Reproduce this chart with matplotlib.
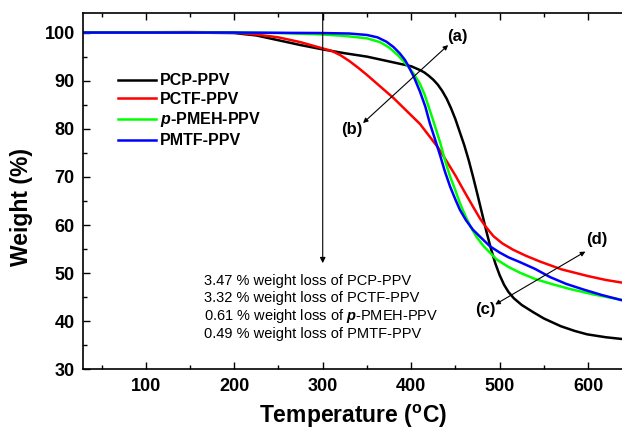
import matplotlib
matplotlib.use("Agg")
import matplotlib.pyplot as plt
from matplotlib.ticker import MultipleLocator

plt.rcParams['font.family'] = ['Liberation Sans', 'DejaVu Sans']
plt.rcParams['mathtext.fontset'] = 'custom'
plt.rcParams['mathtext.rm'] = 'Liberation Sans:bold'
plt.rcParams['mathtext.bf'] = 'Liberation Sans:bold'
plt.rcParams['mathtext.it'] = 'Liberation Sans:italic:bold'

# TGA curves (temperature in C, weight in %)
pcp_t = [30, 150, 200, 225, 250, 275, 300, 325, 350, 375, 390, 400, 410, 415, 420, 425, 430, 435,
         440, 445, 450, 455, 460, 465, 470, 475, 480, 485, 490, 495, 500, 505, 510, 516, 525, 538,
         550, 569, 585, 599, 620, 640]
pcp_w = [100, 100, 99.9, 99.4, 98.4, 97.4, 96.5, 95.7, 95.0, 94.0, 93.4, 93.0, 92.2, 91.7, 91.0, 90.2, 89.2, 87.9,
         86.3, 84.3, 82.0, 79.3, 76.6, 73.5, 70.0, 66.3, 62.5, 58.7, 55.2, 52.1, 49.6, 47.6, 46.1, 44.8, 43.4, 41.9,
         40.6, 39.0, 38.0, 37.3, 36.7, 36.3]

pctf_t = [30, 150, 200, 225, 250, 275, 300, 310, 320, 330, 340, 350, 360, 370, 380, 390, 400,
          410, 420, 430, 440, 450, 460, 470, 478, 485, 493, 503, 515, 530, 546, 570, 600, 620, 640]
pctf_w = [100, 100.1, 100, 99.6, 99.0, 98.0, 96.7, 96.2, 95.3, 94.1, 92.7, 91.2, 89.6, 88.0, 86.4, 84.6, 82.8,
          81.0, 78.6, 76.2, 73.3, 70.3, 67.0, 63.8, 61.3, 59.5, 57.7, 56.2, 54.9, 53.6, 52.4, 50.8, 49.4, 48.6, 48.0]

pmeh_t = [30, 200, 250, 300, 325, 350, 365, 375, 385, 395, 403, 410, 415, 421, 427, 433, 438, 444,
          450, 455, 461, 467, 474, 482, 490, 497, 510, 523, 540, 560, 580, 606, 640]
pmeh_w = [100, 100, 99.9, 99.6, 99.3, 98.8, 98.0, 96.9, 95.3, 93.3, 91.4, 89.3, 87.2, 83.9, 80.5, 77.0, 73.6, 70.1,
          67.2, 64.6, 62.0, 59.7, 57.5, 55.6, 54.1, 52.8, 51.3, 50.1, 48.8, 47.7, 46.7, 45.6, 44.4]

pmtf_t = [30, 200, 300, 330, 350, 362, 372, 380, 387, 393, 397, 403, 410, 416, 421, 427, 433, 438,
          444, 450, 455, 462, 470, 480, 489, 500, 510, 523, 540, 557, 575, 595, 615, 640]
pmtf_w = [100, 100, 99.9, 99.8, 99.5, 99.0, 98.1, 97.0, 95.7, 94.3, 93.0, 90.8, 87.7, 84.6, 81.2, 77.8, 74.3, 71.2,
          68.0, 65.3, 63.2, 61.0, 59.0, 57.2, 55.6, 54.3, 53.3, 52.3, 50.9, 49.2, 47.8, 46.6, 45.5, 44.3]

series = [
    ("PCP-PPV", pcp_t, pcp_w, "#000000"),
    ("PCTF-PPV", pctf_t, pctf_w, "#ff0000"),
    (r"$\it{p}$-PMEH-PPV", pmeh_t, pmeh_w, "#00ff00"),
    ("PMTF-PPV", pmtf_t, pmtf_w, "#0000ff"),
]

loss_lines = [
    "3.47 % weight loss of PCP-PPV",
    "3.32 % weight loss of PCTF-PPV",
    r"0.61 % weight loss of $\it{p}$-PMEH-PPV",
    "0.49 % weight loss of PMTF-PPV",
]

fig = plt.figure(figsize=(6.22, 4.32), dpi=100)
ax = fig.add_axes([0.1334, 0.1447, 0.869, 0.8245])

for label, t, w, c in series:
    ax.plot(t, w, color=c, lw=1.8, label=label)

ax.set_xlim(29, 640)
ax.set_ylim(30, 104)
ax.xaxis.set_major_locator(MultipleLocator(100))
ax.xaxis.set_minor_locator(MultipleLocator(50))
ax.yaxis.set_major_locator(MultipleLocator(10))
ax.yaxis.set_minor_locator(MultipleLocator(5))
ax.tick_params(which='both', direction='in', top=True, right=False, width=1)
ax.tick_params(which='major', length=5, labelsize=13, pad=6)
ax.tick_params(which='minor', length=3)
for lab in ax.get_xticklabels() + ax.get_yticklabels():
    lab.set_fontweight('bold')
ax.spines['right'].set_visible(False)
for s in ['left', 'bottom', 'top']:
    ax.spines[s].set_linewidth(1.2)

ax.set_xlabel(r"Temperature ($^{\mathbf{o}}$C)", fontsize=16.5, fontweight='bold', labelpad=6)
ax.set_ylabel("Weight (%)", fontsize=16.5, fontweight='bold')
ax.yaxis.set_label_coords(-0.092, 0.457)

ax.legend(loc='upper left', bbox_to_anchor=(0.0648, 0.832), frameon=False,
          prop={'weight': 'bold', 'size': 11.5}, handlelength=2.4, handletextpad=0.25,
          labelspacing=0.23, borderpad=0, borderaxespad=0)

# onset arrow at 300 C and weight-loss notes
ax.annotate('', xy=(300, 52.1), xytext=(300, 104),
            arrowprops=dict(arrowstyle='-|>', color='k', lw=0.8, mutation_scale=8, shrinkA=0, shrinkB=0))
ax.text(165.6, 42.8, "\n".join(loss_lines), fontsize=10.5, va='center', ha='left', linespacing=1.2)

# double arrows (a)-(b) and (c)-(d)
ax.annotate('', xy=(441.8, 97.4), xytext=(345.6, 81.2),
            arrowprops=dict(arrowstyle='<|-|>', color='k', lw=0.8, mutation_scale=7, shrinkA=0, shrinkB=0))
ax.annotate('', xy=(596.9, 54.5), xytext=(495, 43.5),
            arrowprops=dict(arrowstyle='<|-|>', color='k', lw=0.8, mutation_scale=7, shrinkA=0, shrinkB=0))
ax.text(451.7, 99.2, "(a)", fontsize=12, fontweight='bold', ha='center', va='center')
ax.text(332.8, 79.8, "(b)", fontsize=12, fontweight='bold', ha='center', va='center')
ax.text(483.7, 42.4, "(c)", fontsize=12, fontweight='bold', ha='center', va='center')
ax.text(609.3, 57.1, "(d)", fontsize=12, fontweight='bold', ha='center', va='center')

fig.savefig("out.png", dpi=100)
